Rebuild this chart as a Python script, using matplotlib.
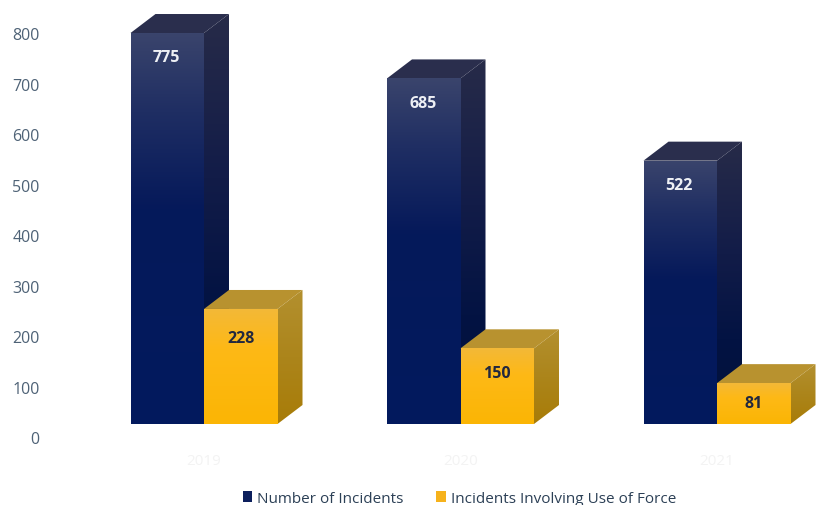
import numpy as np
import matplotlib
matplotlib.use("Agg")
import matplotlib.pyplot as plt
from matplotlib.colors import LinearSegmentedColormap
from matplotlib.patches import Polygon, Patch

years = ["2019", "2020", "2021"]
incidents = [775, 685, 522]
use_of_force = [228, 150, 81]
y_ticks = [0, 100, 200, 300, 400, 500, 600, 700, 800]
series_names = ["Number of Incidents", "Incidents Involving Use of Force"]

W, H = 822, 506
plt.rcParams["font.family"] = ["Open Sans", "DejaVu Sans"]
fig = plt.figure(figsize=(W / 100, H / 100), dpi=100, facecolor="white")

PX_X = 256.5      # pixels per category
PX_Y = 0.5045     # pixels per unit
X0 = 204.0        # pixel of first category
BASE = 425.0      # pixel row of the front-face baseline
BAR_W = 73.5 / PX_X
DX, DY = 25 / PX_X, 19 / PX_Y

# Bars axes: whole figure
ax = fig.add_axes([0, 0, 1, 1], zorder=1)
ax.set_xlim(-X0 / PX_X, (W - X0) / PX_X)
ax.set_ylim(-(H - BASE) / PX_Y, BASE / PX_Y)
ax.axis("off")

navy_front = LinearSegmentedColormap.from_list("nf", [(0, "#3a446c"), (0.2, "#1f2e63"), (0.45, "#05195a"), (1, "#021a5e")])
navy_side = LinearSegmentedColormap.from_list("ns", [(0, "#272b49"), (0.4, "#121c48"), (0.7, "#031343"), (1, "#02113a")])
gold_front = LinearSegmentedColormap.from_list("gf", [(0, "#f3b838"), (0.35, "#feb916"), (1, "#fbb504")])
gold_side = LinearSegmentedColormap.from_list("gs", [(0, "#b3902f"), (0.5, "#ac851b"), (1, "#a87c08")])
grad = np.linspace(0, 1, 256)[:, None]


def face(pts, cmap, z):
    pts = np.array(pts)
    poly = Polygon(pts, closed=True, fc="none", ec="none", transform=ax.transData)
    ax.add_patch(poly)
    ext = [pts[:, 0].min(), pts[:, 0].max(), pts[:, 1].min(), pts[:, 1].max()]
    im = ax.imshow(grad, cmap=cmap, extent=ext, origin="upper", aspect="auto", zorder=z, interpolation="bilinear")
    im.set_clip_path(poly)


def bar3d(x0, v, front, side, top, z):
    x1 = x0 + BAR_W
    face([(x1, 0), (x1 + DX, DY), (x1 + DX, v + DY), (x1, v)], side, z)
    ax.add_patch(Polygon([(x0, v), (x1, v), (x1 + DX, v + DY), (x0 + DX, v + DY)], closed=True, fc=top, ec="none", zorder=z))
    face([(x0, 0), (x1, 0), (x1, v), (x0, v)], front, z + 0.1)


for i, (a, b) in enumerate(zip(incidents, use_of_force)):
    bar3d(i - BAR_W, a, navy_front, navy_side, "#2a2e4d", 2 + i)
    bar3d(i, b, gold_front, gold_side, "#b8922f", 2.5 + i)
    ax.annotate(str(a), (i - BAR_W / 2, a), xytext=(-0.8, -17.5), textcoords="offset points", ha="center", va="center",
                fontsize=11.5, fontweight="bold", color="#eef0f5", zorder=10)

gold_offsets = [-21, -18, -14]
for i, b in enumerate(use_of_force):
    ax.annotate(str(b), (i + BAR_W / 2, b), xytext=(0, gold_offsets[i]), textcoords="offset points", ha="center", va="center",
                fontsize=11.5, fontweight="bold", color="#22283f", zorder=10)

ax.set_xlim(-X0 / PX_X, (W - X0) / PX_X)
ax.set_ylim(-(H - BASE) / PX_Y, BASE / PX_Y)

# Scale axes: value ticks sit 14 px below the bars' baseline
LEFT = 46
tax = fig.add_axes([LEFT / W, (H - 438.5) / H, (W - LEFT) / W, (438.5 - 34.5) / H], zorder=2)
tax.patch.set_alpha(0)
tax.set_xlim((LEFT - X0) / PX_X, (W - X0) / PX_X)
tax.set_ylim(0, 800)
tax.set_yticks(y_ticks)
tax.set_xticks(range(len(years)), years)
tax.tick_params(axis="y", length=0, pad=4.5, labelsize=11.5, labelcolor="#4e6276")
tax.tick_params(axis="x", length=0, pad=11.5, labelsize=11, labelcolor="#f3f3f3")
for s in tax.spines.values():
    s.set_visible(False)

handles = [Patch(fc="#0c1f5c", ec="none"), Patch(fc="#f6b21c", ec="none")]
fig.legend(handles, series_names, loc="center", bbox_to_anchor=(459.5 / W, (H - 499.5) / H), ncol=2, frameon=False,
           fontsize=11, labelcolor="#2c4056", handlelength=0.6, handleheight=0.7, handletextpad=0.35, columnspacing=2.15,
           borderpad=0, borderaxespad=0)

fig.savefig("out.png", dpi=100)
